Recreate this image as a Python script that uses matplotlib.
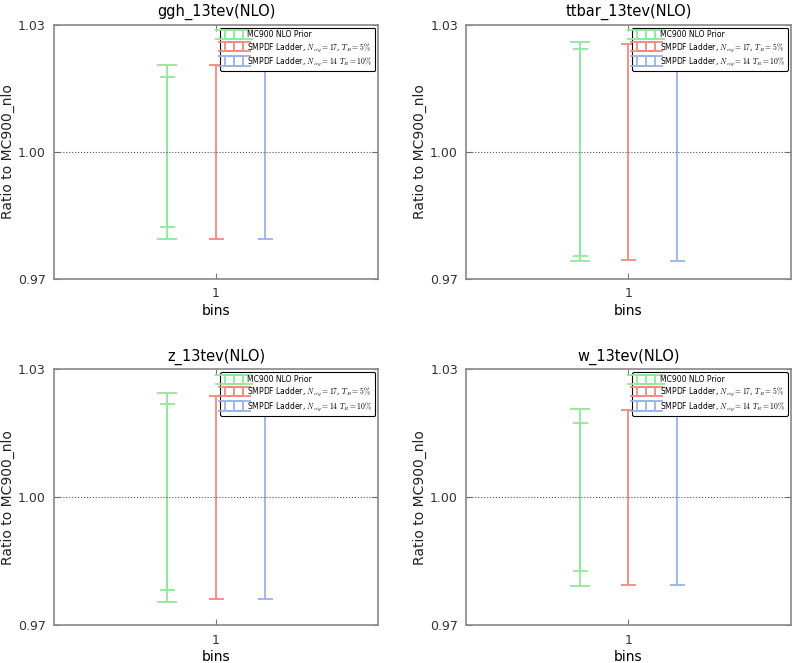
import matplotlib
matplotlib.use("Agg")
import matplotlib.pyplot as plt
from matplotlib.container import ErrorbarContainer
from matplotlib.legend_handler import HandlerErrorbar

plt.rcParams['mathtext.fontset'] = 'cm'
plt.rcParams['font.family'] = 'DejaVu Sans'

# observables, one panel each
titles = ['ggh_13tev(NLO)', 'ttbar_13tev(NLO)', 'z_13tev(NLO)', 'w_13tev(NLO)']

# prior, outer band (lower, upper)
prior_lo = [0.9795, 0.9743, 0.9755, 0.9792]
prior_hi = [1.0204, 1.0258, 1.0245, 1.0208]
# prior, inner band
prior68_lo = [0.9822, 0.9755, 0.9782, 0.9826]
prior68_hi = [1.0177, 1.0242, 1.0218, 1.0175]
# SMPDF ladder Neig=17
smpdf17_lo = [0.9795, 0.9745, 0.9762, 0.9795]
smpdf17_hi = [1.0204, 1.0254, 1.0237, 1.0205]
# SMPDF ladder Neig=14
smpdf14_lo = [0.9795, 0.9743, 0.9762, 0.9795]
smpdf14_hi = [1.0204, 1.0254, 1.0237, 1.0205]

labels = ['MC900 NLO Prior',
          r'SMPDF Ladder, $N_{eig}=17$, $T_R=5\%$',
          r'SMPDF Ladder, $N_{eig}=14$ $T_R=10\%$']
colors = ['#8fe89c', '#ef8a7b', '#97b4e3']

yticks = [0.97, 1.00, 1.03]
xbin = 1

fig = plt.figure(figsize=(7.93, 6.63), dpi=100)
positions = [[0.068, 0.579, 0.409, 0.384],
             [0.588, 0.579, 0.409, 0.384],
             [0.068, 0.057, 0.409, 0.386],
             [0.588, 0.057, 0.409, 0.386]]

def band(ax, x, lo, hi, color, label=None, cap=5.4):
    c = 1.0
    return ax.errorbar([x], [c], yerr=[[c - lo], [hi - c]], fmt='none',
                       ecolor=color, elinewidth=1.3, capsize=cap,
                       capthick=1.3, label=label)

for i, pos in enumerate(positions):
    ax = fig.add_axes(pos)
    band(ax, xbin - 0.15, prior_lo[i], prior_hi[i], colors[0], labels[0], cap=7.5)
    band(ax, xbin - 0.15, prior68_lo[i], prior68_hi[i], colors[0])
    band(ax, xbin, smpdf17_lo[i], smpdf17_hi[i], colors[1], labels[1])
    band(ax, xbin + 0.15, smpdf14_lo[i], smpdf14_hi[i], colors[2], labels[2])
    ax.axhline(1.0, color='#555555', linestyle=':', linewidth=0.8)

    ax.set_xlim(0.5, 1.5)
    ax.set_ylim(0.97, 1.03)
    ax.set_xticks([xbin])
    ax.set_yticks(yticks)
    ax.set_yticklabels(['%.2f' % t for t in yticks])
    ax.tick_params(direction='in', top=True, right=True, length=4,
                   color='#777777', labelcolor='#333333', labelsize=9, pad=6)
    for s in ax.spines.values():
        s.set_color('#888888')
        s.set_linewidth(1.2)
    ax.set_title(titles[i], fontsize=10.5, pad=6)
    ax.set_xlabel('bins', fontsize=10, labelpad=2.5)
    ax.set_ylabel('Ratio to MC900_nlo', fontsize=10, color='#222222')
    ax.yaxis.set_label_coords(-0.12, 0.5)

    leg = ax.legend(loc='upper right', fontsize=5.5, numpoints=3,
                    fancybox=True, framealpha=1, borderaxespad=0.4,
                    handlelength=2.9, handletextpad=0.3, labelspacing=0.2,
                    borderpad=0.35,
                    handler_map={ErrorbarContainer: HandlerErrorbar(yerr_size=0.62)})
    leg.get_frame().set_edgecolor('black')
    leg.get_frame().set_linewidth(0.8)

fig.savefig('out.png', dpi=100)
